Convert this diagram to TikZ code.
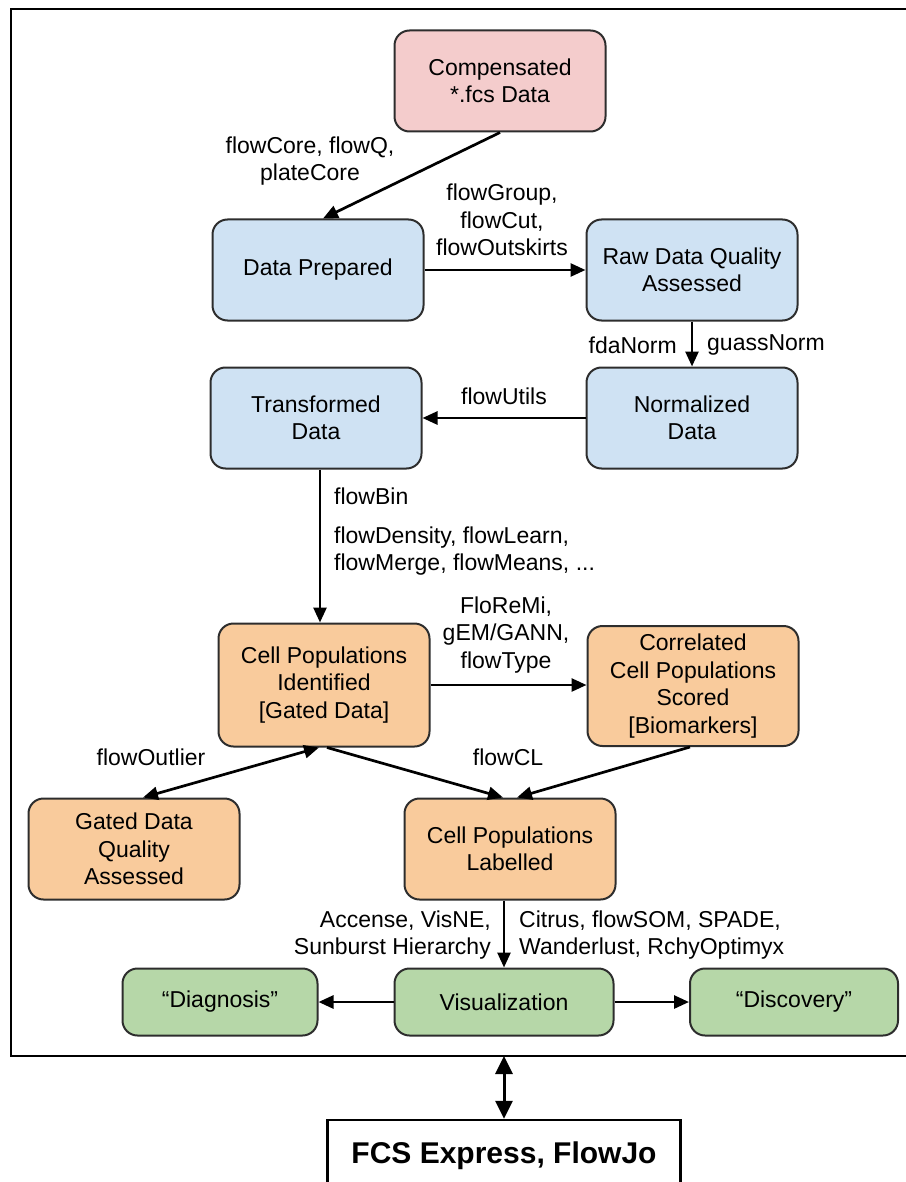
\documentclass[tikz,border=0pt]{standalone}
\usepackage{fontspec}
\setmainfont{Liberation Sans}
\usetikzlibrary{arrows.meta,calc}
\definecolor{fcspink}{RGB}{244,204,204}
\definecolor{fcsblue}{RGB}{207,226,243}
\definecolor{fcsorange}{RGB}{249,203,156}
\definecolor{fcsgreen}{RGB}{182,215,168}
\definecolor{fcsedge}{RGB}{45,45,45}
\tikzset{
  stage/.style={rounded corners=15pt, draw=fcsedge, line width=2pt, align=center, inner sep=0pt, minimum width=211pt, minimum height=101pt, font=\fontsize{23}{27.5}\selectfont},
  inbox/.style={stage, fill=fcspink},
  prepbox/.style={stage, fill=fcsblue},
  gatebox/.style={stage, fill=fcsorange},
  visbox/.style={stage, fill=fcsgreen, minimum height=67pt},
  tool/.style={inner sep=0pt, align=center, font=\fontsize{23}{27.5}\selectfont},
  arr/.style={-{Triangle[length=15pt,width=13pt]}, line width=2.7pt},
  dblarr/.style={{Triangle[length=15pt,width=13pt]}-{Triangle[length=15pt,width=13pt]}, line width=2.7pt},
}

\begin{document}
\begin{tikzpicture}[x=1pt,y=-1pt]
  \useasboundingbox (0,0) rectangle (905,1182);
  % outer frame
  \draw[line width=2.5pt] (11,9) rectangle (912,1056);
  \coordinate (framebot) at (504,1056);

  % stages
  \node[inbox] (comp) at (500,81) {Compensated\\*.fcs Data};
  \node[prepbox] (prep) at (318,270) {Data Prepared};
  \node[prepbox] (raw) at (692,270) {Raw Data Quality\\Assessed};
  \node[prepbox] (norm) at (692,418) {Normalized\\Data};
  \node[prepbox] (trans) at (316,418) {Transformed\\Data};
  \node[gatebox, minimum height=123pt] (ident) at (324,685) {Cell Populations\\Identified\\{[Gated Data]}};
  \node[gatebox, minimum height=120pt] (corr) at (693,686) {Correlated\\Cell Populations\\Scored\\{[Biomarkers]}};
  \node[gatebox] (gated) at (134,849) {Gated Data\\Quality\\Assessed};
  \node[gatebox] (lab) at (510,849) {Cell Populations\\Labelled};
  \node[visbox, minimum width=195pt] (diag) at (220,1002) {``Diagnosis''};
  \node[visbox, minimum width=219pt] (vis) at (504,1002) {Visualization};
  \node[visbox, minimum width=208pt] (disc) at (794,1002) {``Discovery''};
  \node[draw, line width=2.5pt, minimum width=353pt, minimum height=72pt, font=\fontsize{30}{36}\selectfont\bfseries] (fcs) at (504,1156) {FCS Express, FlowJo};

  % tool labels
  \node[tool] (lblcore) at (310,161) {flowCore, flowQ,\\plateCore};
  \node[tool] (lblgroup) at (502,220) {flowGroup,\\flowCut,\\flowOutskirts};
  \node[tool, anchor=east] (lblfda) at (677,345) {fdaNorm};
  \node[tool, anchor=west] (lblgauss) at (707,345) {guassNorm};
  \node[tool] (lblutils) at (504,396) {flowUtils};
  \node[tool, anchor=west] (lblbin) at (334,496) {flowBin};
  \node[tool, anchor=west, align=left] (lblgate) at (334,551) {flowDensity, flowLearn,\\flowMerge, flowMeans, ...};
  \node[tool] (lblremi) at (506,635) {FloReMi,\\gEM/GANN,\\flowType};
  \node[tool] (lbloutlier) at (151,757) {flowOutlier};
  \node[tool] (lblcl) at (508,757) {flowCL};
  \node[tool, anchor=east, align=right] (lblaccense) at (491,935) {Accense, VisNE,\\Sunburst Hierarchy};
  \node[tool, anchor=west, align=left] (lblcitrus) at (519,935) {Citrus, flowSOM, SPADE,\\Wanderlust, RchyOptimyx};

  % connectors
  \draw[arr] (comp.south) -- ([xshift=5pt]prep.north);
  \draw[arr] (prep) -- (raw);
  \draw[arr] (raw) -- (norm);
  \draw[arr] (norm) -- (trans);
  \draw[arr] ([xshift=4pt]trans.south) -- ([xshift=-4pt]ident.north);
  \draw[arr] (ident.east) -- (ident.east -| corr.west);
  \draw[dblarr] ([xshift=-5pt]ident.south) -- ([xshift=9pt]gated.north);
  \draw[arr] ([xshift=3pt]ident.south) -- ([xshift=-7pt]lab.north);
  \draw[arr] ([xshift=-3pt]corr.south) -- ([xshift=7pt]lab.north);
  \draw[arr] (lab.south -| vis.north) -- (vis.north);
  \draw[arr] (vis) -- (diag);
  \draw[arr] (vis) -- (disc);
  \draw[dblarr, {Triangle[length=18pt,width=17pt]}-{Triangle[length=18pt,width=17pt]}, line width=3pt] (framebot) -- (fcs.north);
\end{tikzpicture}
\end{document}
